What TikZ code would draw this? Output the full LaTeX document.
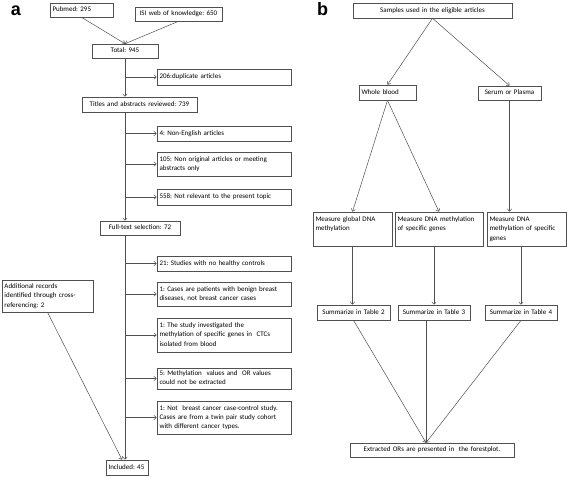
\documentclass[tikz,border=0pt]{standalone}
\usepackage{fontspec}
\setmainfont{Carlito}
\newfontfamily\lblfont{Liberation Sans}
\usetikzlibrary{arrows.meta}
\frenchspacing
\definecolor{bc}{HTML}{505050}
\definecolor{lc}{HTML}{505050}
\newcommand\fs{\fontsize{7}{9.2}\selectfont\frenchspacing}
\newcommand\bxx[8]{%
  \pgfmathsetmacro\bxw{#4-#2}\pgfmathsetmacro\bxh{#5-#3}\pgfmathsetmacro\bxtw{#4-#2-5}%
  \node[bx,minimum width=\bxw pt,minimum height=\bxh pt,text width=\bxtw pt,align=#6] (#1) at ({(#2+#4)/2},{(#3+#5)/2}) {\begin{tabular}{@{}#7@{}}#8\end{tabular}};}
\begin{document}
\begin{tikzpicture}[x=1pt,y=-1pt,
  bx/.style={draw=bc,line width=0.6pt,inner xsep=2.5pt,inner ysep=1pt,font=\fs},
  ln/.style={draw=lc,line width=0.5pt,-{Straight Barb[length=2.5pt,width=4.5pt]}},
  lbl/.style={font=\lblfont\bfseries\fontsize{18}{18}\selectfont,anchor=base,inner sep=0pt}]
\useasboundingbox (0,0) rectangle (567,477);
\node[lbl] (la) at (16,15) {a};
\node[lbl] (lb) at (322.5,15) {b};
% panel a
\bxx{pub}{50}{3}{113}{17}{left}{l}{Pubmed: 295}
\bxx{isi}{135}{7}{222}{21}{center}{c}{ISI web of knowledge: 650}
\bxx{total}{92}{44}{158}{58}{center}{c}{Total: 945}
\bxx{e206}{157}{69}{291}{85}{left}{l}{206:duplicate articles}
\bxx{titles}{82}{97}{197}{112}{center}{c}{Titles and abstracts reviewed: 739}
\bxx{e4}{157}{126}{291}{141}{left}{l}{4: Non-English articles}
\bxx{e105}{157}{152}{291}{176}{left}{l}{105: Non original articles or meeting\\abstracts only}
\bxx{e558}{157}{189}{291}{205}{left}{l}{558: Not relevant to the present topic}
\bxx{full}{100}{221}{180}{235}{center}{c}{Full-text selection: 72}
\bxx{e21}{157}{256}{291}{271}{left}{l}{21: Studies with no healthy controls}
\bxx{e1c}{157}{282}{291}{306}{left}{l}{1: Cases are patients with benign breast\\diseases, not breast cancer cases}
\bxx{add}{2}{280}{93}{312}{left}{l}{Additional records\\identified through cross-\\referencing: 2}
\bxx{e1s}{157}{318}{291}{352}{left}{l}{1: The study investigated the\\methylation of specific genes in\ \ CTCs\\isolated from blood}
\bxx{e5}{157}{368}{291}{389}{left}{l}{5: Methylation\ \ values and\ \ OR values\\could not be extracted}
\bxx{e1n}{157}{401}{291}{434}{left}{l}{1: Not\ \ breast cancer case-control study.\\Cases are from a twin pair study cohort\\with different cancer types.}
\bxx{inc}{106}{460}{148}{475}{left}{l}{Included: 45}
\draw[ln] (pub.south) -- (total.north);
\draw[ln] (isi.south) -- (total.north);
\draw[ln] (total.south) -- (total.south |- titles.north);
\draw[ln] (total.south |- e206.west) -- (e206.west);
\draw[ln] (total.south |- titles.south) -- (total.south |- full.north);
\draw[ln] (total.south |- e4.west) -- (e4.west);
\draw[ln] (total.south |- e105.west) -- (e105.west);
\draw[ln] (total.south |- e558.west) -- (e558.west);
\draw[ln] (total.south |- full.south) -- (total.south |- inc.north);
\draw[ln] (total.south |- e21.west) -- (e21.west);
\draw[ln] (total.south |- e1c.west) -- (e1c.west);
\draw[ln] (total.south |- e1s.west) -- (e1s.west);
\draw[ln] (total.south |- e5.west) -- (e5.west);
\draw[ln] (total.south |- e1n.west) -- (e1n.west);
\draw[ln] (add.south) -- ([xshift=-5pt]inc.north);
% panel b
\bxx{samp}{353}{3}{512}{18}{center}{c}{Samples used in the eligible articles}
\bxx{wb}{359}{85}{416}{100}{left}{l}{Whole blood}
\bxx{ser}{478}{86}{541}{100}{center}{c}{Serum or Plasma}
\bxx{mg}{313}{212}{392}{246}{left}{l}{Measure global DNA\\methylation\\~}
\bxx{md}{395}{212}{483}{246}{left}{l}{Measure DNA methylation\\of specific genes\\~}
\bxx{ms}{487}{212}{566}{246}{left}{l}{Measure DNA\\methylation of specific\\genes}
\bxx{s2}{317}{305}{390}{320}{center}{c}{Summarize in Table 2}
\bxx{s3}{398}{305}{470}{320}{center}{c}{Summarize in Table 3}
\bxx{s4}{485}{305}{557}{320}{center}{c}{Summarize in Table 4}
\bxx{ex}{350}{443}{514}{457}{center}{c}{Extracted ORs are presented in\ \ the forestplot.}
\draw[ln] (samp.south) -- (wb.north);
\draw[ln] (samp.south) -- (ser.north);
\draw[ln] (wb.south) -- (mg.north);
\draw[ln] (wb.south) -- (md.north);
\draw[ln] (ser.south) -- (ser.south |- ms.north);
\draw[ln] (mg.south) -- (mg.south |- s2.north);
\draw[ln] (s3.north |- md.south) -- (s3.north);
\draw[ln] (s4.north |- ms.south) -- (s4.north);
\coordinate (conv) at ([xshift=-6pt]ex.north);
\draw[ln] (s2.south) -- (conv);
\draw[ln] (conv |- s3.south) -- (conv);
\draw[ln] (s4.south) -- (conv);
\end{tikzpicture}
\end{document}
